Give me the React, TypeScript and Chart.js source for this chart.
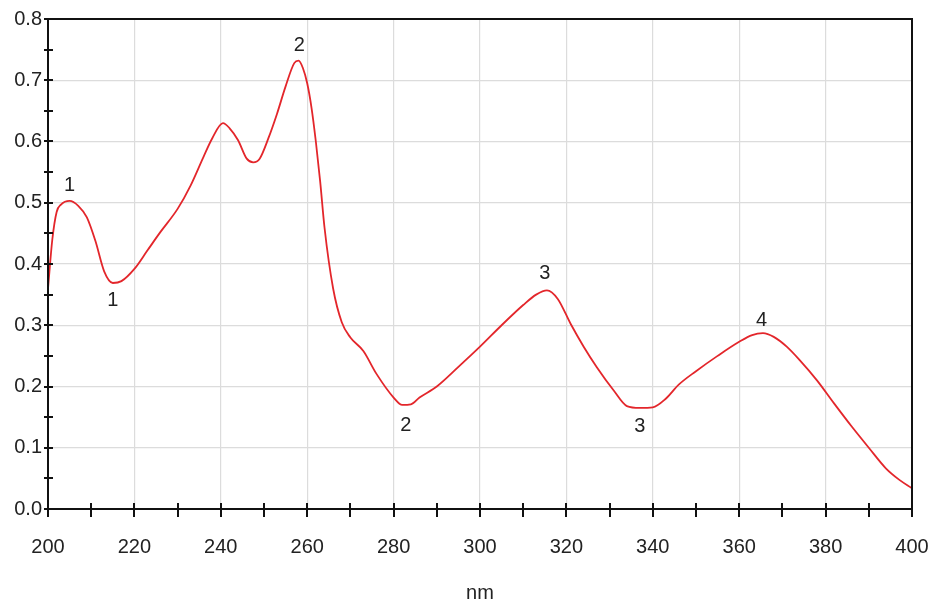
import React, { useEffect, useRef } from "react";
import { Chart, registerables } from "chart.js";

Chart.register(...registerables);

const wavelengths = [
  200, 201, 202, 203, 205, 207, 209, 211, 213, 215, 217, 220, 223, 226, 230, 233, 236, 238, 240.5, 242,
  244, 246, 247.5, 249, 251, 253, 255, 257, 258, 259, 260, 261, 262, 263, 264, 266, 268, 270, 273, 276,
  280, 282, 284, 286, 290, 295, 300, 305, 310, 313, 315.5, 318, 321, 324, 327, 331, 334, 337, 340, 343,
  346, 350, 355, 360, 363, 365.5, 368, 371, 374, 378, 382, 386, 390, 394, 397, 400,
];
const absorbance = [
  0.36, 0.44, 0.485, 0.497, 0.503, 0.495, 0.476, 0.437, 0.388, 0.369, 0.372, 0.392, 0.422, 0.452, 0.49, 0.528, 0.575, 0.605, 0.63, 0.622,
  0.602, 0.572, 0.566, 0.572, 0.605, 0.645, 0.69, 0.728, 0.732, 0.72, 0.695, 0.655, 0.6, 0.535, 0.46, 0.36, 0.305, 0.28, 0.258, 0.221,
  0.182, 0.17, 0.171, 0.182, 0.2, 0.232, 0.265, 0.3, 0.333, 0.35, 0.357, 0.343, 0.302, 0.265, 0.232, 0.193, 0.168, 0.165, 0.166, 0.18,
  0.203, 0.225, 0.25, 0.273, 0.284, 0.287, 0.281, 0.265, 0.243, 0.21, 0.172, 0.135, 0.1, 0.066, 0.048, 0.034,
];

const peakLabelText = ["1", "1", "2", "2", "3", "3", "4"];
const peakLabelX = [205, 215, 258.2, 282.8, 315, 337, 365.2];
const peakLabelY = [0.529, 0.341, 0.757, 0.137, 0.385, 0.134, 0.308];

const xMin = 200;
const xMax = 400;
const xMajorStep = 20;
const xMinorStep = 10;
const yMin = 0;
const yMax = 0.8;
const yMajorStep = 0.1;
const yMinorStep = 0.05;
const xAxisTitle = "nm";

const FONT = "'Liberation Sans', Arial, sans-serif";

const decorPlugin = {
  id: "decor",
  afterDatasetsDraw(chart: any) {
    const { ctx, chartArea, scales } = chart;
    const xs = scales.x;
    const ys = scales.y;
    ctx.save();
    // peak labels
    ctx.fillStyle = "#222";
    ctx.font = `20px ${FONT}`;
    ctx.textAlign = "center";
    ctx.textBaseline = "middle";
    for (let i = 0; i < peakLabelText.length; i++) {
      ctx.fillText(peakLabelText[i], xs.getPixelForValue(peakLabelX[i]), ys.getPixelForValue(peakLabelY[i]));
    }
    // frame
    ctx.strokeStyle = "#111";
    ctx.lineWidth = 2;
    ctx.strokeRect(chartArea.left, chartArea.top, chartArea.right - chartArea.left, chartArea.bottom - chartArea.top);
    // x ticks
    ctx.lineWidth = 2;
    ctx.beginPath();
    for (let v = xMin; v <= xMax + 1e-9; v += xMinorStep) {
      const px = Math.round(xs.getPixelForValue(v));
      ctx.moveTo(px, chartArea.bottom - 6);
      ctx.lineTo(px, chartArea.bottom + 8);
    }
    // y ticks
    for (let k = 0; k <= Math.round((yMax - yMin) / yMinorStep); k++) {
      const v = yMin + k * yMinorStep;
      const py = Math.round(ys.getPixelForValue(v));
      ctx.moveTo(chartArea.left - 4, py);
      ctx.lineTo(chartArea.left + 5, py);
    }
    ctx.stroke();
    ctx.restore();
  },
};

function App() {
  const canvasRef = useRef<HTMLCanvasElement | null>(null);

  useEffect(() => {
    document.body.style.margin = "0";
    const points = wavelengths.map((w, i) => ({ x: w, y: absorbance[i] }));
    const chart = new Chart(canvasRef.current as HTMLCanvasElement, {
      type: "line",
      data: {
        datasets: [
          {
            data: points,
            borderColor: "#e3262b",
            borderWidth: 1.8,
            pointRadius: 0,
            cubicInterpolationMode: "monotone",
            fill: false,
          },
        ],
      },
      options: {
        animation: false,
        responsive: false,
        maintainAspectRatio: false,
        layout: { padding: { top: 19, right: 19, left: 0, bottom: 0 } },
        plugins: { legend: { display: false }, tooltip: { enabled: false } },
        scales: {
          x: {
            type: "linear",
            min: xMin,
            max: xMax,
            afterFit(scale: any) {
              scale.height = 98;
              scale.paddingLeft = 0;
              scale.paddingRight = 0;
            },
            ticks: {
              stepSize: xMajorStep,
              padding: 26,
              color: "#222",
              font: { family: FONT, size: 20 },
              maxRotation: 0,
            },
            grid: { color: "#dcdcdc", lineWidth: 1.2, drawTicks: false },
            border: { display: false },
            title: {
              display: true,
              text: xAxisTitle,
              color: "#222",
              font: { family: FONT, size: 20 },
              padding: { top: 0, bottom: 2 },
            },
          },
          y: {
            type: "linear",
            min: yMin,
            max: yMax,
            afterFit(scale: any) {
              scale.width = 48;
            },
            ticks: {
              stepSize: yMajorStep,
              padding: 6,
              color: "#222",
              font: { family: FONT, size: 20 },
              callback: (v: any) => Number(v).toFixed(1),
            },
            grid: { color: "#dcdcdc", lineWidth: 1.2, drawTicks: false },
            border: { display: false },
          },
        },
      },
      plugins: [decorPlugin],
    } as any);
    return () => chart.destroy();
  }, []);

  return (
    <div style={{ position: "absolute", left: 0, top: 0, width: 931, height: 607, background: "#fff" }}>
      <canvas ref={canvasRef} width={931} height={607} style={{ width: 931, height: 607 }} />
    </div>
  );
}

export default App;
